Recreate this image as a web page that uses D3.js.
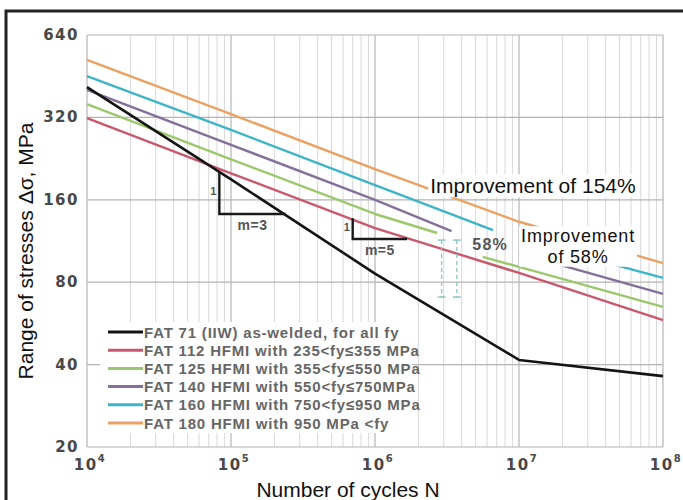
<!DOCTYPE html>
<meta charset="utf-8">
<script src="https://d3js.org/d3.v7.min.js"></script>
<style>
  body { margin: 0; background: #fff; }
  svg text { font-family: "Liberation Sans", Arial, sans-serif; }
  .grid-minor { stroke: #d8d8d8; stroke-width: 1; }
  .grid-major { stroke: #b4b4b4; stroke-width: 1.2; }
  .tick-label { font-family: "DejaVu Sans", sans-serif !important; font-weight: bold; fill: #484848; font-size: 15px; letter-spacing: 1.5px; }
  .big { font-size: 21px; fill: #111; }
  .legend-text { font-weight: bold; font-size: 15px; fill: #666; letter-spacing: 0.8px; }
  .note { font-weight: bold; fill: #555; }
  .sn { fill: none; stroke-linejoin: round; }
</style>
<svg id="chart" width="683" height="500"></svg>
<script>
  // ticks
  const yTicks = [20, 40, 80, 160, 320, 640]
  const xDecades = [4, 5, 6, 7, 8]

  // S-N curves, [cycles, stress range MPa], null = gap
  const fat71  = [[1e4, 413], [1e5, 190], [1e6, 86], [1e7, 41.6], [1e8, 36.3]]
  const fat112 = [[1e4, 318], [1e5, 200], [1e6, 126], [1e7, 86.5], [1e8, 58.2]]
  const fat125 = [[1e4, 358], [1e5, 225], [1e6, 142], [2.7e6, 121], null, [5.6e6, 99], [1e7, 91], [1e8, 65]]
  const fat140 = [[1e4, 403], [1e5, 254], [1e6, 160], [3.4e6, 123], null, [1e7, 102], [1e8, 72.5]]
  const fat160 = [[1e4, 453], [1e5, 288], [1e6, 181], [6.6e6, 124], null, [1e7, 115], [1e8, 83]]
  const fat180 = [[1e4, 519], [1e5, 329], [1e6, 207], [1e7, 133], [1e8, 94]]

  const legendNames = [
    "FAT 71 (IIW) as-welded, for all fy",
    "FAT 112 HFMI with 235<fy≤355 MPa",
    "FAT 125 HFMI with 355<fy≤550 MPa",
    "FAT 140 HFMI with 550<fy≤750MPa",
    "FAT 160 HFMI with 750<fy≤950 MPa",
    "FAT 180 HFMI with 950 MPa <fy"
  ]
  const seriesColors = ["#141414", "#c9586c", "#9cc86c", "#85709a", "#3db5c6", "#eaa264"]

  // slope triangles, improvement notes
  const triangles = [
    {n1: 8.3e4, n2: 2.4e5, s1: 202, s2: 142, label: "m=3"},
    {n1: 7.0e5, n2: 1.67e6, s1: 137, s2: 115, label: "m=5"}
  ]
  const dimCycles = [2.9e6, 3.7e6]
  const dimStress = [114, 70.6]
  const notes = [
    {lines: ["Improvement of 154%"], n: 1.25e7, s: 169, size: 21, lead: 0},
    {lines: ["Improvement", "of 58%"], n: 2.57e7, s: 112, size: 18, lead: 20.5}
  ]

  var svg = d3.select("#chart")
  const x = d3.scaleLog().domain([1e4, 1e8]).range([87, 663])
  const y = d3.scaleLog().base(2).domain([20, 640]).range([447, 35])

  // frame
  svg.append("path").attr("d", "M6,500V11H683").attr("fill", "none").attr("stroke", "#222").attr("stroke-width", 3)

  // grid
  var grid = svg.append("g")
  var minor = []
  xDecades.slice(0, -1).forEach(d => { for (let k = 2; k < 10; k++) minor.push(k * Math.pow(10, d)) })
  grid.selectAll(".grid-minor").data(minor).join("line").attr("class", "grid-minor")
    .attr("x1", d => x(d)).attr("x2", d => x(d)).attr("y1", y(640)).attr("y2", y(20))
  grid.selectAll(".vmaj").data(xDecades).join("line").attr("class", "grid-major vmaj")
    .attr("x1", d => x(Math.pow(10, d))).attr("x2", d => x(Math.pow(10, d))).attr("y1", y(640)).attr("y2", y(20))
  grid.selectAll(".hmaj").data(yTicks).join("line").attr("class", "grid-major hmaj")
    .attr("x1", x(1e4)).attr("x2", x(1e8)).attr("y1", d => y(d)).attr("y2", d => y(d))

  // tick labels
  svg.selectAll(".ylab").data(yTicks).join("text").attr("class", "tick-label ylab")
    .attr("x", 79).attr("y", d => y(d) + 5).attr("text-anchor", "end").text(d => d)
  var xl = svg.selectAll(".xlab").data(xDecades).join("text").attr("class", "tick-label xlab")
    .attr("x", d => x(Math.pow(10, d)) + 3).attr("y", 470).attr("text-anchor", "middle")
  xl.append("tspan").text("10")
  xl.append("tspan").attr("dy", -8).style("font-size", "10px").text(d => d)

  // axis titles
  svg.append("text").attr("class", "big").attr("x", 348).attr("y", 497).attr("text-anchor", "middle").text("Number of cycles N")
  svg.append("text").attr("class", "big").attr("text-anchor", "middle")
    .attr("transform", "translate(33,251) rotate(-90)").text("Range of stresses Δσ, MPa")

  // curves
  const line = d3.line().defined(d => d !== null).x(d => x(d[0])).y(d => y(d[1]))
  const curves = [fat112, fat125, fat140, fat160, fat180, fat71]
  const curveColors = seriesColors.slice(1).concat(seriesColors[0])
  curves.forEach((c, i) => {
    svg.append("path").datum(c).attr("class", "sn").attr("d", line)
      .attr("stroke", curveColors[i]).attr("stroke-width", i == 5 ? 2.6 : 2.4)
  })

  // slope triangles
  triangles.forEach(t => {
    svg.append("path").attr("fill", "none").attr("stroke", "#1a1a1a").attr("stroke-width", 2.4)
      .attr("d", "M" + x(t.n1) + "," + y(t.s1) + "V" + y(t.s2) + "H" + x(t.n2))
    svg.append("text").attr("class", "note").style("font-size", "11px")
      .attr("x", x(t.n1) - 6).attr("y", (y(t.s1) + y(t.s2)) / 2 + 2).attr("text-anchor", "middle").text("1")
    svg.append("text").attr("class", "note").style("font-size", "14px").style("letter-spacing", "0.5px")
      .attr("x", (x(t.n1) + x(t.n2)) / 2).attr("y", y(t.s2) + 16).attr("text-anchor", "middle").text(t.label)
  })

  // 58% dimension marks
  dimCycles.forEach(n => {
    svg.append("line").attr("x1", x(n)).attr("x2", x(n)).attr("y1", y(dimStress[0])).attr("y2", y(dimStress[1]))
      .attr("stroke", "#8fc4c4").attr("stroke-width", 1.3).attr("stroke-dasharray", "4,3")
    dimStress.forEach(s => {
      svg.append("line").attr("x1", x(n) - 4).attr("x2", x(n) + 4).attr("y1", y(s)).attr("y2", y(s))
        .attr("stroke", "#8fc4c4").attr("stroke-width", 1.5)
    })
  })
  svg.append("text").attr("class", "note").style("font-size", "16px").style("letter-spacing", "1.2px")
    .attr("x", x(6.3e6)).attr("y", y(105)).attr("text-anchor", "middle").text("58%")

  // improvement labels on white boxes
  notes.forEach(nt => {
    var g = svg.append("g")
    var t = g.append("text").attr("class", "big").attr("text-anchor", "middle").style("font-size", nt.size + "px")
    if (nt.lines.length > 1) t.style("letter-spacing", "0.8px")
    nt.lines.forEach((l, i) => {
      t.append("tspan").attr("x", x(nt.n)).attr("y", y(nt.s) + i * nt.lead).text(l)
    })
    var b = t.node().getBBox()
    g.insert("rect", "text").attr("x", b.x - 2).attr("y", b.y).attr("width", b.width + 4).attr("height", b.height)
      .attr("fill", "#fff")
  })

  // legend
  var lg = svg.append("g")
  lg.append("rect").attr("x", 100).attr("y", 322).attr("width", 312).attr("height", 111).attr("fill", "#fff")
  legendNames.forEach((name, i) => {
    var ly = 332 + i * 18.2
    lg.append("line").attr("x1", 108).attr("x2", 143).attr("y1", ly).attr("y2", ly)
      .attr("stroke", seriesColors[i]).attr("stroke-width", 3)
    lg.append("text").attr("class", "legend-text").attr("x", 144).attr("y", ly + 5.5).text(name)
  })
</script>
